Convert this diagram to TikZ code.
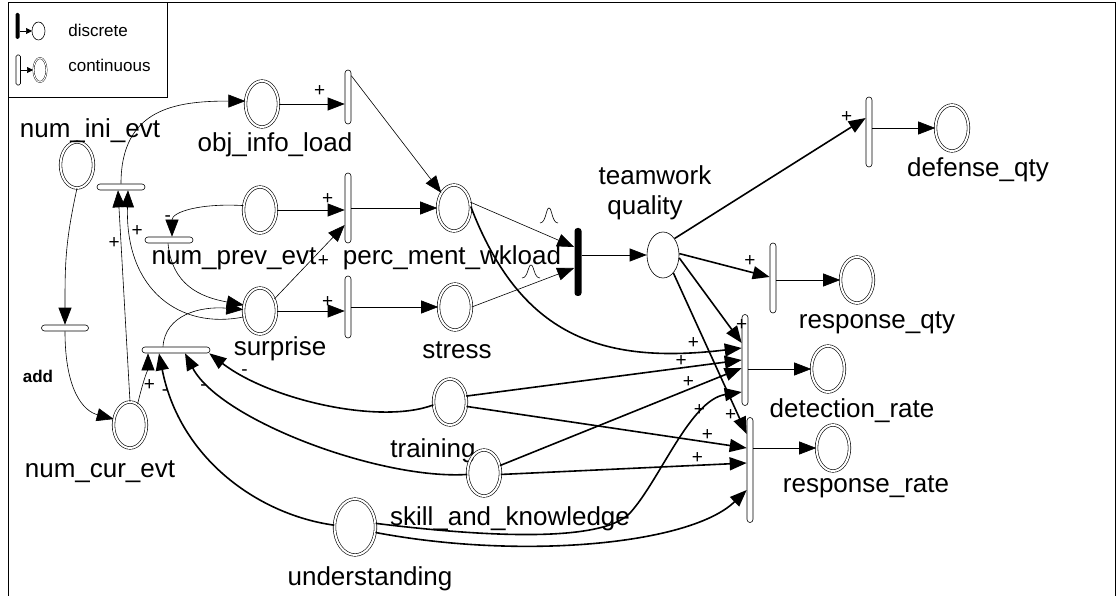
\documentclass[tikz,border=0pt]{standalone}
\usepackage{fontspec}
\setmainfont{Liberation Sans}
\usepackage{tikz}
\usetikzlibrary{shapes.geometric,arrows.meta}

\tikzset{
	stock/.style={ellipse, draw, double, double distance=2pt, line width=0.6pt, minimum width=33pt, minimum height=46pt, inner sep=0pt},
	aux/.style={ellipse, draw, line width=0.6pt, minimum width=32pt, minimum height=46pt, inner sep=0pt},
	vflow/.style={draw, fill=white, line width=0.6pt, rounded corners=3pt, minimum width=6pt, inner sep=0pt},
	hflow/.style={draw, fill=white, line width=0.6pt, rounded corners=3pt, minimum height=6pt, inner sep=0pt},
	disc/.style={fill=black, rounded corners=3pt, minimum width=7pt, inner sep=0pt},
	varname/.style={font=\fontsize{26}{28}\selectfont, inner sep=0pt, anchor=base},
	legtxt/.style={font=\fontsize{17}{18}\selectfont, inner sep=0pt, anchor=base west},
	sgn/.style={font=\fontsize{19}{19}\selectfont, inner sep=1pt},
	thk/.style={line width=1.6pt},
}

\begin{document}
\begin{tikzpicture}[>={Triangle[length=17pt,width=13pt]}, x=1pt, y=-1pt, line width=0.6pt]
	\useasboundingbox (0,0) rectangle (1117,596);
	%cornice
	\draw (8,596) -- (8,2) -- (1115,2) -- (1115,596);
	%legenda
	\draw (8,2) rectangle (167,97);
	\fill [rounded corners=1.5pt] (15.5,13) rectangle (19.5,39);
	\draw [-{Triangle[length=6pt,width=6pt]}] (19.5,31) -- (32,31);
	\draw (38.5,31) ellipse (6.5 and 9);
	\node [legtxt] (ldisc) at (68,37) {discrete};
	\draw [rounded corners=1.5pt] (16,55) rectangle (20.5,85);
	\draw [-{Triangle[length=6pt,width=6pt]}] (20.5,70) -- (33,70);
	\draw [double, double distance=1pt, line width=0.4pt] (40,70) ellipse (6.5 and 12);
	\node [legtxt] (lcont) at (68,72) {continuous};

	%variabili
	\node [stock] (numini) at (77,165) {};
	\node [varname] (numiniL) at (90,138) {num\_ini\_evt};
	\node [stock] (objinfo) at (262,104) {};
	\node [varname] (objinfoL) at (275,152) {obj\_info\_load};
	\node [stock] (numprev) at (260,210) {};
	\node [varname] (numprevL) at (234,265) {num\_prev\_evt};
	\node [stock] (surprise) at (260,311) {};
	\node [varname] (surpriseL) at (280,355) {surprise};
	\node [stock] (percment) at (454,208) {};
	\node [varname] (percmentL) at (452,265) {perc\_ment\_wkload};
	\node [stock] (stress) at (455,307) {};
	\node [varname] (stressL) at (457,358) {stress};
	\node [stock] (numcur) at (130,425) {};
	\node [varname] (numcurL) at (100,477) {num\_cur\_evt};
	\node [stock] (training) at (450,402) {};
	\node [varname] (trainingL) at (433,457) {training};
	\node [stock] (skill) at (484,473) {};
	\node [varname] (skillL) at (510,525) {skill\_and\_knowledge};
	\node [stock, minimum width=41pt, minimum height=56pt] (underst) at (355,527) {};
	\node [varname] (understL) at (370,585) {understanding};
	\node [aux] (team) at (663,255) {};
	\node [varname] (teamL) at (655,185) {teamwork};
	\node [varname] (teamLb) at (645,215) {quality};
	\node [stock] (defqty) at (952,128) {};
	\node [varname] (defqtyL) at (978,177) {defense\_qty};
	\node [stock] (respqty) at (857,280) {};
	\node [varname] (respqtyL) at (877,328) {response\_qty};
	\node [stock] (detrate) at (828,369) {};
	\node [varname] (detrateL) at (852,417) {detection\_rate};
	\node [stock] (resprate) at (833,448) {};
	\node [varname] (resprateL) at (866,492) {response\_rate};

	%flussi
	\node [hflow, minimum width=48pt] (ibar) at (121,187) {};
	\node [hflow, minimum width=47pt] (addbar) at (65,328) {};
	\node [font=\fontsize{17}{18}\selectfont\bfseries, inner sep=0pt, anchor=base] (addL) at (38,382) {add};
	\node [hflow, minimum width=48pt] (pbar) at (169,240) {};
	\node [hflow, minimum width=68pt] (sbar) at (176,350) {};
	\node [vflow, minimum height=54pt] (objbar) at (348,97) {};
	\node [vflow, minimum height=70pt] (prevbar) at (348,208) {};
	\node [vflow, minimum height=62pt] (stressbar) at (348,307) {};
	\node [disc, minimum height=68pt] (dbar) at (578,262) {};
	\node [vflow, minimum height=70pt] (defbar) at (869,132) {};
	\node [vflow, minimum height=70pt] (rqbar) at (773,278) {};
	\node [vflow, minimum height=91pt] (detbar) at (745,360) {};
	\node [vflow, minimum height=105pt] (respbar) at (750,470) {};

	%eventi
	\draw [->] (ibar.north) .. controls +(0,-75) and +(-70,0) .. (objinfo.170);
	\draw [->] (numini.south) .. controls +(-12,55) and +(0,-60) .. (addbar.north);
	\draw [->] (addbar.south) .. controls +(0,60) and +(-30,-8) .. (numcur.160);
	\draw [->] (numcur.north) -- ([xshift=-3pt]ibar.south) node [sgn, pos=0.75, left] {+};
	\draw [->] (surprise.200) .. controls (180,330) and (125,290) .. ([xshift=7pt]ibar.south) node [sgn, pos=0.85, right] {+};
	\draw [->] (numprev.165) .. controls (200,203) and (172,212) .. ([xshift=3pt]pbar.north) node [sgn, pos=0.7, left=7pt] {-};
	\draw [->] ([xshift=-1pt]pbar.south) .. controls (172,285) and (200,297) .. (surprise.160);
	\draw [->] (numcur.70) .. controls +(6,-25) and +(0,15) .. ([xshift=-28pt]sbar.south) node [sgn, pos=0.3, right] {+};
	\draw [->] ([xshift=-13pt]sbar.north) .. controls (165,315) and (200,306) .. (surprise.175);

	%carico mentale
	\draw [->] (objinfo.east) -- (objinfo.east -| objbar.west) node [sgn, pos=0.62, above=6pt] {+};
	\draw [->] (numprev.east) -- (numprev.east -| prevbar.west) node [sgn, pos=0.75, above=4pt] {+};
	\draw [->] (surprise.40) -- ([yshift=-17pt]prevbar.west) node [sgn, pos=0.6, below right] {+};
	\draw [->] (surprise.east) -- (surprise.east -| stressbar.west) node [sgn, pos=0.75, above=2pt] {+};
	\draw [->] ([yshift=-6pt]objbar.north east) -- (percment.130);
	\draw [->] (prevbar.east) -- (percment.west);
	\draw [->] (stressbar.east |- stress.west) -- (stress.west);
	\draw [->] (percment.20) -- ([yshift=15pt]dbar.west);
	\draw [->] (stress.east) -- ([yshift=-6pt]dbar.west);
	\draw (540,223) .. controls (546,223) and (546,208) .. (549,208) .. controls (552,208) and (552,223) .. (558,223);
	\draw (522,278) .. controls (528,278) and (528,265) .. (531,265) .. controls (534,265) and (534,278) .. (540,278);
	\draw [->] (dbar.east |- team.west) -- (team.west);

	%prestazioni
	\draw [thk, ->] (team.55) -- ([yshift=14pt]defbar.west) node [sgn, pos=0.9, above=6pt] {+};
	\draw [thk, ->] (team.5) -- ([yshift=1pt]rqbar.west) node [sgn, pos=0.78, above=4pt] {+};
	\draw [thk, ->] (team.-10) -- ([yshift=17pt]detbar.west) node [sgn, pos=0.88, above right=0pt] {+};
	\draw [thk, ->] (team.-60) -- ([yshift=36pt]respbar.west) node [sgn, pos=0.88, left] {+};
	\draw [->] (defbar.east |- defqty.west) -- (defqty.west);
	\draw [->] (rqbar.east |- respqty.west) -- (respqty.west);
	\draw [->] (detbar.east |- detrate.west) -- (detrate.west);
	\draw [->] (respbar.east |- resprate.west) -- (resprate.west);
	\draw [thk, ->] (percment.5) .. controls (520,335) and (600,365) .. ([yshift=12pt]detbar.west) node [sgn, pos=0.88, above=2pt] {+};
	\draw [thk, ->] (training.20) -- (detbar.west) node [sgn, pos=0.78, above] {+};
	\draw [thk, ->] (training.-15) -- ([yshift=22pt]respbar.west) node [sgn, pos=0.86, above] {+};
	\draw [thk, ->] (skill.25) -- ([yshift=-8pt]detbar.west) node [sgn, pos=0.78, above] {+};
	\draw [thk, ->] (skill.-5) -- ([yshift=7pt]respbar.west) node [sgn, pos=0.8, above] {+};
	\draw [thk, ->] (underst.10) .. controls (470,535) and (600,545) .. (630,513) .. controls (660,480) and (690,400) .. ([yshift=-32pt]detbar.west) node [sgn, pos=0.75, left] {+};
	\draw [thk, ->] (underst.-15) .. controls (520,560) and (690,545) .. ([yshift=-20pt]respbar.west);

	%sorpresa
	\draw [thk, ->] (training.190) .. controls (380,425) and (270,400) .. ([xshift=-1pt]sbar.south east) node [sgn, pos=0.85, right] {-};
	\draw [thk, ->] (skill.185) .. controls (380,480) and (220,420) .. ([xshift=9pt]sbar.south) node [sgn, pos=0.85, below left] {-};
	\draw [thk, ->] (underst.175) .. controls (260,515) and (180,460) .. ([xshift=-17pt]sbar.south) node [sgn, pos=0.87, left] {-};
\end{tikzpicture}
\end{document}
